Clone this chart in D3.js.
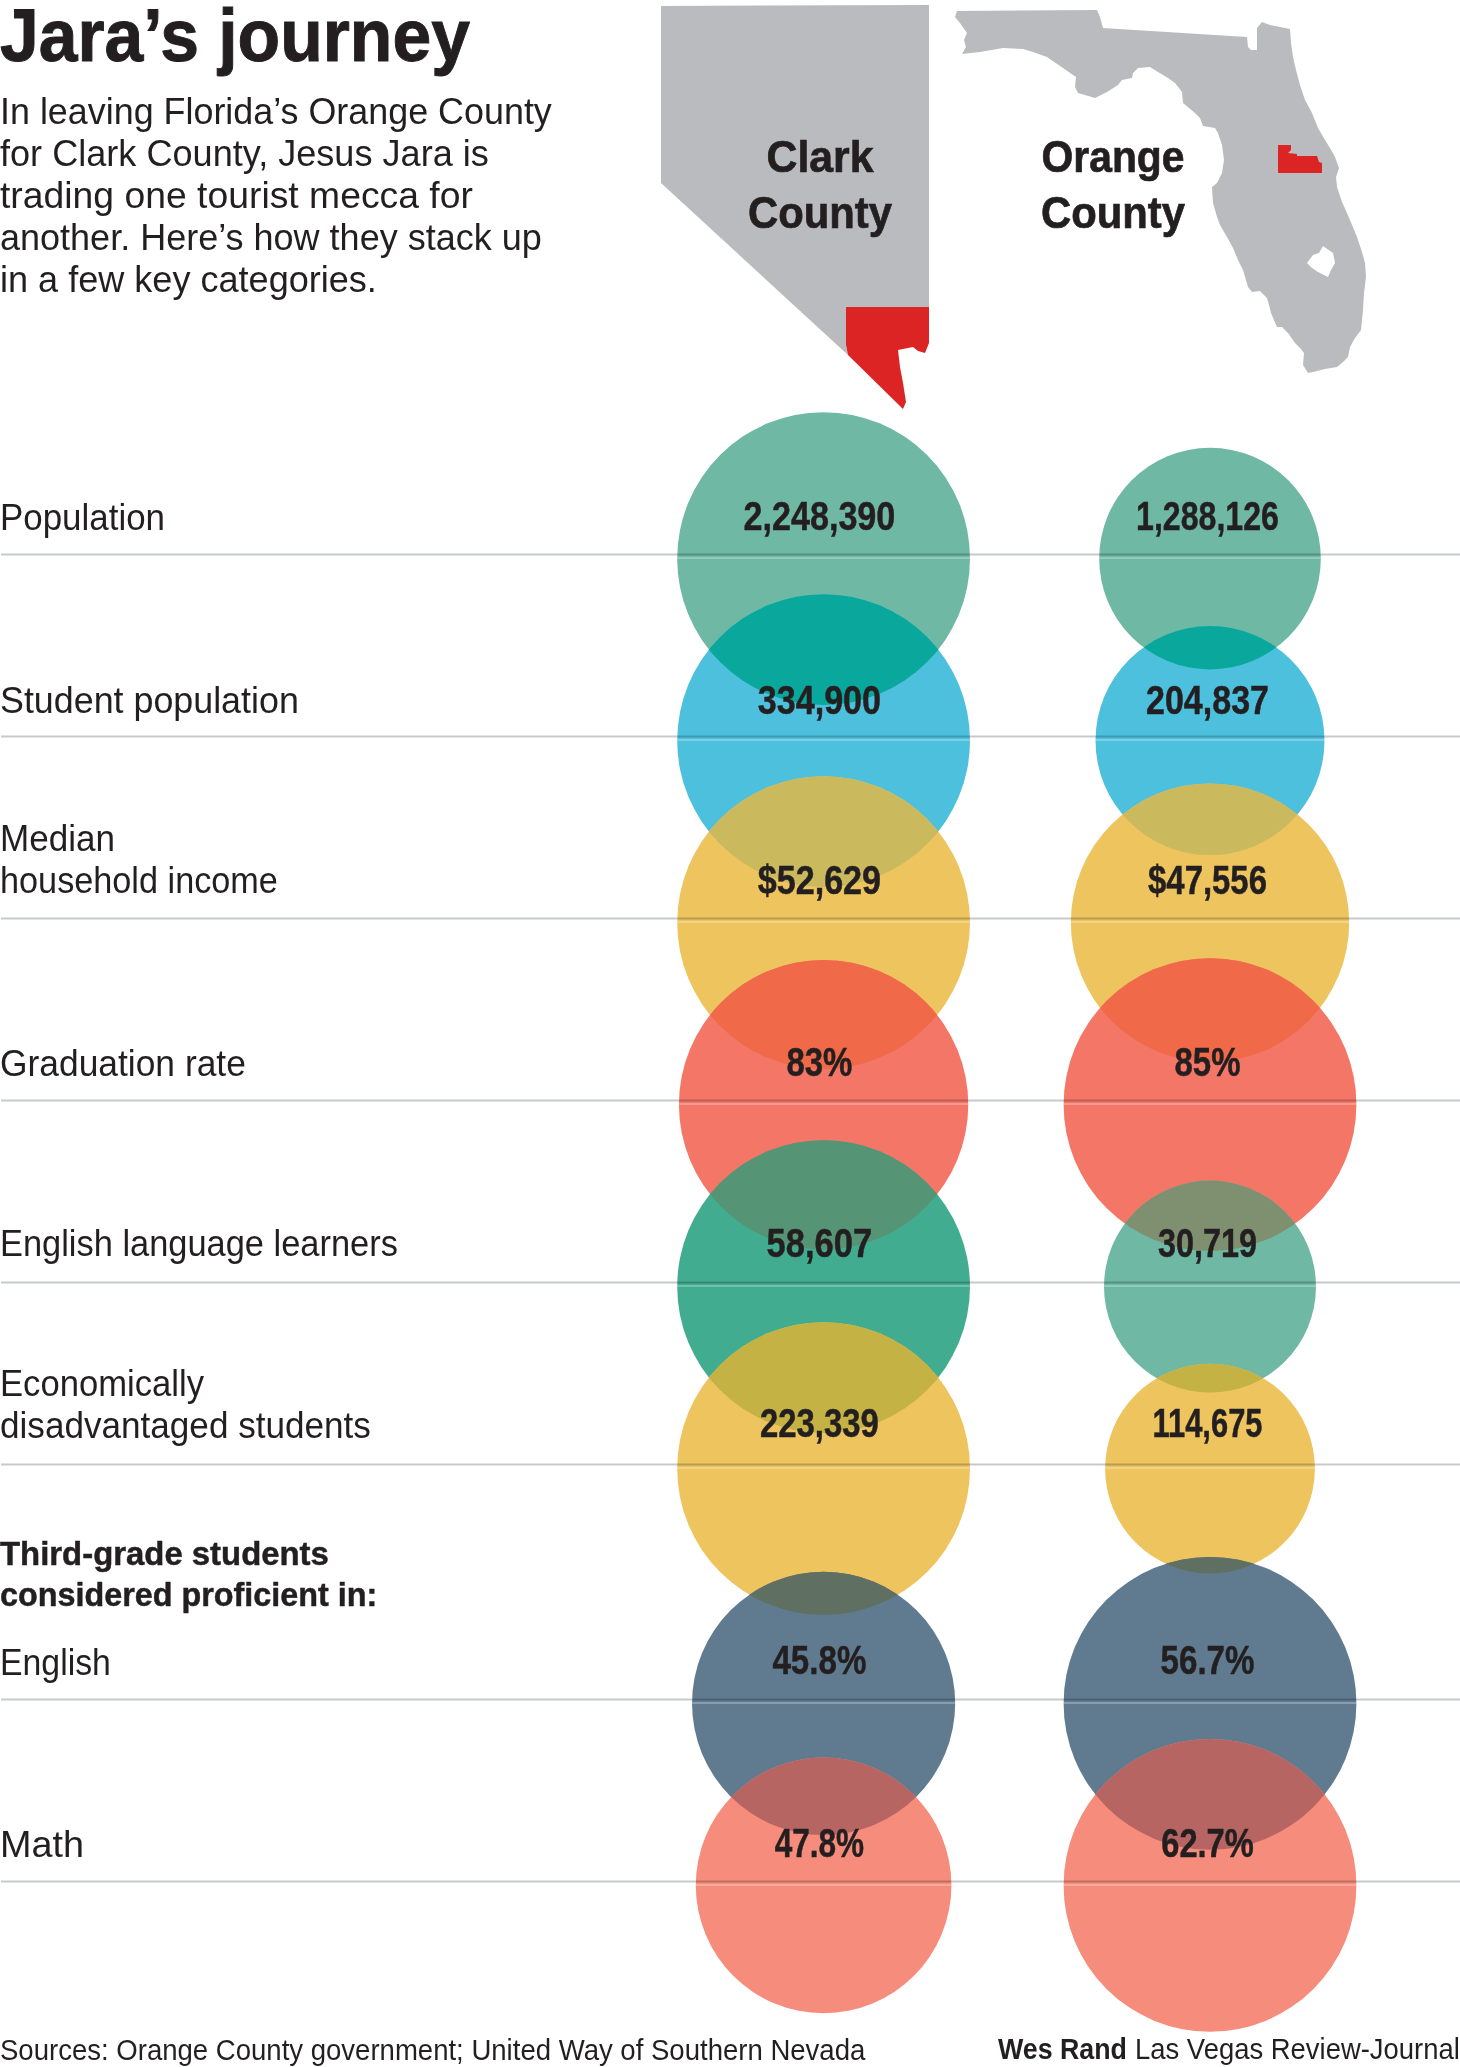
<!DOCTYPE html>
<html>
<head>
<meta charset="utf-8">
<title>Jara's journey</title>
<script src="https://cdnjs.cloudflare.com/ajax/libs/d3/7.8.5/d3.min.js"></script>
<style>
  html, body { margin: 0; padding: 0; background: #fff; }
  svg { display: block; }
  text { font-family: "Liberation Sans", Arial, sans-serif; fill: #231f20; stroke: #231f20; paint-order: stroke; }
</style>
</head>
<body>
<div id="chart"></div>
<script>
// Row data
const rowLabels = [
  ["Population"],
  ["Student population"],
  ["Median", "household income"],
  ["Graduation rate"],
  ["English language learners"],
  ["Economically", "disadvantaged students"],
  ["English"],
  ["Math"],
];
const clarkValues = [2248390, 334900, 52629, 83, 58607, 223339, 45.8, 47.8];
const orangeValues = [1288126, 204837, 47556, 85, 30719, 114675, 56.7, 62.7];

// Value label formats, one per row
const count = d3.format(",");
const dollars = d3.format("$,");
const percent = (v) => v + "%";
const rowFormats = [count, count, dollars, percent, count, count, percent, percent];

// Fill per row, and fill where a circle overlaps the one above it
const clarkFills = ["#6fb8a3", "#4dc0dd", "#edc45e", "#f37667", "#42ac91", "#edc45e", "#607b90", "#f68c7b"];
const orangeFills = ["#6fb8a3", "#4dc0dd", "#edc45e", "#f37667", "#6fb8a3", "#edc45e", "#607b90", "#f68c7b"];
const clarkOverlaps = [null, "#0aa89c", "#cbb95e", "#f06a4a", "#559474", "#c4b245", "#5f7062", "#b76563"];
const orangeOverlaps = [null, "#0aa89c", "#cbb95e", "#f06a4a", "#7e9070", "#c4b245", "#5f7062", "#b76563"];

const columns = [
  { name: "Clark", values: clarkValues, fills: clarkFills, overlaps: clarkOverlaps, labelShift: -4.2 },
  { name: "Orange", values: orangeValues, fills: orangeFills, overlaps: orangeOverlaps, labelShift: -2.5 },
];

// Header copy
const titleText = "Jara\u2019s journey";
const introLines = [
  "In leaving Florida\u2019s Orange County",
  "for Clark County, Jesus Jara is",
  "trading one tourist mecca for",
  "another. Here\u2019s how they stack up",
  "in a few key categories.",
];
const subheadLines = ["Third-grade students", "considered proficient in:"];
const sourceText = "Sources: Orange County government; United Way of Southern Nevada";

const nevadaOutline = [[661,6],[929,5],[929,307],[846,307],[846,345],[848,355],[661,183]];
const clarkOutline = [[846,307],[929,307],[929,343],[925,353],[918,351],[913,347],[898,350],[900,367],[903,383],[906,402],[903,409],[848,355],[846,345]];
const floridaOutline = [
  [955,17],[957,11],[1097,10],[1100,17],[1103,28],[1247,37],[1248,47],[1251,50],[1257,50],[1257,28],[1262,22],[1270,25],[1290,29],
  [1291,43],[1293,57],[1296,70],[1300,85],[1305,100],[1312,113],[1318,128],[1325,140],[1330,148],[1335,157],[1339,168],[1336,177],
  [1337,187],[1342,202],[1347,213],[1352,225],[1357,237],[1362,252],[1365,263],[1366,277],[1364,293],[1363,310],[1361,330],[1355,338],
  [1350,347],[1348,357],[1343,362],[1337,367],[1325,369],[1313,372],[1308,373],[1303,365],[1304,353],[1300,348],[1295,343],[1288,333],
  [1282,327],[1277,327],[1271,313],[1269,305],[1267,298],[1260,291],[1252,292],[1248,287],[1243,270],[1238,260],[1233,248],[1227,237],
  [1220,225],[1217,217],[1213,203],[1212,187],[1217,183],[1222,173],[1224,160],[1222,145],[1218,133],[1215,128],[1203,126],[1200,118],
  [1195,113],[1183,103],[1182,92],[1175,83],[1168,78],[1158,72],[1150,67],[1138,68],[1133,73],[1132,78],[1122,80],[1118,85],[1107,92],
  [1095,98],[1078,93],[1075,87],[1076,77],[1063,68],[1047,57],[1033,52],[1023,49],[1003,48],[980,52],[962,54],[966,47],[964,40],
  [967,33],[960,23],
];
const okeechobeeOutline = [[1307,263],[1313,255],[1319,253],[1323,246],[1333,253],[1335,263],[1331,270],[1328,277],[1318,272],[1312,268]];
const orangeOutline = [[1278,145],[1291,145],[1291,150],[1288,153],[1297,154],[1297,156],[1317,156],[1319,162],[1322,163],[1322,173],[1278,173]];

// Page setup
const width = 1460;
const height = 2067;
const maxRadius = 146.4;
const circleDrop = 4; // circles sit a little below their rule
const subheadGap = 0.29; // extra row slots taken by the third-grade subhead

// Baseline distance above each row's rule (the paste-up is not quite regular)
const labelLift = [25, 23.7, 25.7, 24.3, 26.3, 26.7, 24.7, 24.4];
const valueLift = [24.6, 23, 25, 25, 25.7, 28, 25, 24.4];

// Printed width of each string, the fallback face gets squeezed to these
const textWidths = {
  "Jara\u2019s journey": 470,
  "In leaving Florida\u2019s Orange County": 552,
  "for Clark County, Jesus Jara is": 489,
  "trading one tourist mecca for": 473,
  "another. Here\u2019s how they stack up": 542,
  "in a few key categories.": 377,
  "Clark": 107,
  "County": 144,
  "Orange": 143,
  "Population": 165,
  "Student population": 299,
  "Median": 115,
  "household income": 278,
  "Graduation rate": 246,
  "English language learners": 398,
  "Economically": 204,
  "disadvantaged students": 371,
  "English": 111,
  "Math": 84,
  "Third-grade students": 329,
  "considered proficient in:": 377.5,
  "2,248,390": 152,
  "1,288,126": 143,
  "334,900": 123.4,
  "204,837": 123,
  "$52,629": 123.4,
  "$47,556": 119,
  "83%": 66,
  "85%": 66,
  "58,607": 105.6,
  "30,719": 99,
  "223,339": 119,
  "114,675": 110,
  "45.8%": 94,
  "56.7%": 94,
  "47.8%": 89.4,
  "62.7%": 92.6,
  "Sources: Orange County government; United Way of Southern Nevada": 866,
  "Wes Rand": 129,
  "Las Vegas Review-Journal": 325,
};

const svg = d3.select("#chart").append("svg").attr("width", width).attr("height", height);

// Scales
const xScale = d3.scalePoint().domain(columns.map((c) => c.name)).range([823.6, 1210]);
const yScale = d3.scaleLinear().domain([0, 5]).range([554.6, 1464.6]);
const rowY = (i) => yScale(i + (i >= 6 ? subheadGap : 0));

// Each row is scaled on its own: circle area stands for the value, largest of the pair is full size
const radiusFor = (i) =>
  d3.scaleSqrt().domain([0, Math.max(clarkValues[i], orangeValues[i])]).range([0, maxRadius]);

// Text helper, squeezes the string horizontally to its printed width
function addText(str, x, y, size, weight, anchor, strokeWidth) {
  const t = svg
    .append("text")
    .attr("font-size", size)
    .attr("font-weight", weight)
    .attr("text-anchor", anchor || "start")
    .attr("stroke-width", strokeWidth || 0)
    .text(str);
  const squeeze = textWidths[str] / t.node().getComputedTextLength();
  t.attr("transform", `translate(${x},${y}) scale(${squeeze},1)`);
  return t;
}

// Maps
const outline = d3.line().curve(d3.curveLinearClosed);
const mapGroup = svg.append("g");
mapGroup.append("path").attr("d", outline(nevadaOutline)).attr("fill", "#babbbe");
mapGroup.append("path").attr("d", outline(floridaOutline) + outline(okeechobeeOutline)).attr("fill", "#babbbe").attr("fill-rule", "evenodd");
mapGroup.append("path").attr("d", outline(clarkOutline)).attr("fill", "#dd2424");
mapGroup.append("path").attr("d", outline(orangeOutline)).attr("fill", "#dd2424");

// Circles
const defs = svg.append("defs");
columns.forEach((col) => {
  const g = svg.append("g").attr("class", `col-${col.name}`);
  const cx = xScale(col.name);
  const cy = (i) => rowY(i) + circleDrop;
  const r = (i) => radiusFor(i)(col.values[i]);

  g.selectAll("circle.base")
    .data(col.values)
    .enter()
    .append("circle")
    .attr("class", "base")
    .attr("cx", cx)
    .attr("cy", (d, i) => cy(i))
    .attr("r", (d, i) => r(i))
    .attr("fill", (d, i) => col.fills[i]);

  // Overprint colour where two neighbours meet
  col.values.forEach((v, i) => {
    if (i === 0) return;
    const id = `clip-${col.name}-${i}`;
    defs.append("clipPath").attr("id", id).append("circle").attr("cx", cx).attr("cy", cy(i - 1)).attr("r", r(i - 1));
    g.append("circle")
      .attr("cx", cx)
      .attr("cy", cy(i))
      .attr("r", r(i))
      .attr("fill", col.overlaps[i])
      .attr("clip-path", `url(#${id})`);
  });
});

// Rules
rowLabels.forEach((label, i) => {
  svg.append("line")
    .attr("x1", 1).attr("x2", width)
    .attr("y1", rowY(i)).attr("y2", rowY(i))
    .attr("stroke", "#c8c9cb").attr("stroke-width", 2)
    .style("mix-blend-mode", "multiply");
  svg.append("line")
    .attr("x1", 1).attr("x2", width)
    .attr("y1", rowY(i) + 3.5).attr("y2", rowY(i) + 3.5)
    .attr("stroke", "#fff").attr("stroke-opacity", 0.35).attr("stroke-width", 1.5);
});

// Row labels
rowLabels.forEach((lines, i) => {
  lines.forEach((line, j) => {
    addText(line, 0, rowY(i) - labelLift[i] - 41.5 * (lines.length - 1 - j), 37, 400);
  });
});
subheadLines.forEach((line, j) => addText(line, 0, 1564.5 + 41.5 * j, 34, 700, "start", 0.5));

// Value labels
columns.forEach((col) => {
  col.values.forEach((v, i) => {
    addText(rowFormats[i](v), xScale(col.name) + col.labelShift, rowY(i) - valueLift[i], 41, 700, "middle", 0.5);
  });
});

// Header
addText(titleText, 0, 61, 75, 700, "start", 1);
introLines.forEach((line, j) => addText(line, 0, 124 + 42 * j, 37, 400));
addText("Clark", 820, 172, 45, 700, "middle", 0.7);
addText("County", 820, 228, 45, 700, "middle", 0.7);
addText("Orange", 1113, 172, 45, 700, "middle", 0.7);
addText("County", 1113, 228, 45, 700, "middle", 0.7);

// Footer
addText(sourceText, 0, 2060, 29, 400);
addText("Wes Rand", 998, 2059, 29, 700);
addText("Las Vegas Review-Journal", 1135, 2059, 29, 400);
</script>
</body>
</html>
